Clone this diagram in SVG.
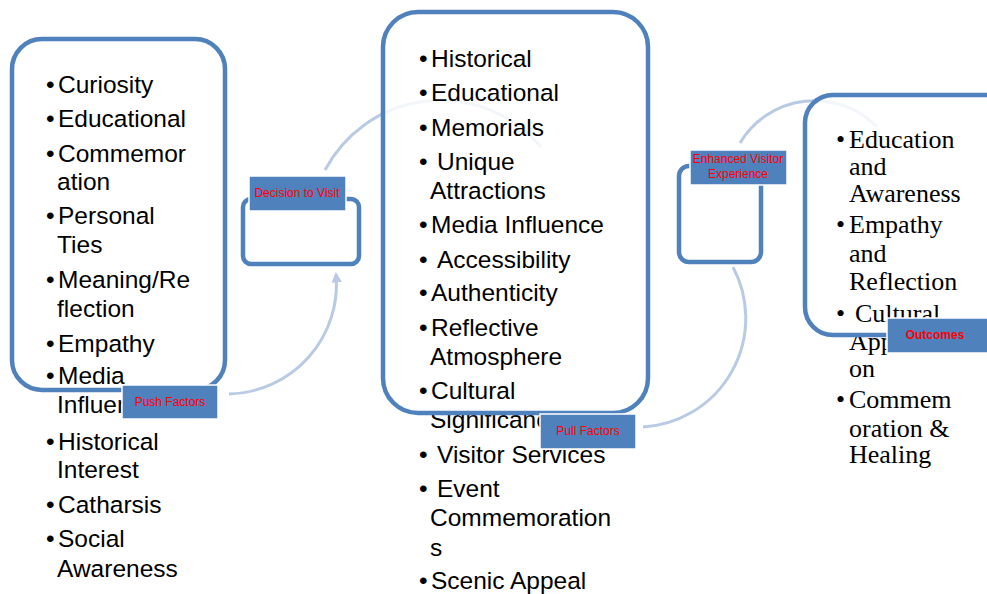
<svg xmlns="http://www.w3.org/2000/svg" width="987" height="594" viewBox="0 0 987 594">
<defs>
<style>
.box{fill:none;stroke:#4F81BD;stroke-width:4.5}
.bg{fill:#fff;fill-opacity:0.82;stroke:none}
.arc{fill:none;stroke:#B9CBE4;stroke-width:3}
.lbl{fill:#4F81BD;stroke:#fff;stroke-width:1.5}
.lt{font-family:"Liberation Sans",Arial,sans-serif;font-size:12px;fill:#FF0000;text-anchor:middle}
.b{font-weight:bold}
.s{font-family:"Liberation Sans",Arial,sans-serif;font-size:24.5px;fill:#000}
.r{font-family:"Liberation Serif","Times New Roman",serif;font-size:26px;fill:#000}
</style>
<marker id="ah" viewBox="0 0 10 10" refX="8" refY="5" markerWidth="3.5" markerHeight="3.5" orient="auto">
<path d="M0,0 L10,5 L0,10 z" fill="#B9CBE4"/>
</marker>
</defs>
<rect width="987" height="594" fill="#fff"/>

<g id="connectors">
<path class="arc" d="M229,394 A110,110 0 0 0 336,274" marker-end="url(#ah)"/>
<path class="arc" d="M325,170 A131,131 0 0 1 541,147"/>
<path class="arc" d="M643,427 A109,109 0 0 0 733,267"/>
<path class="arc" d="M740,143 A87,87 0 0 1 877,127"/>
</g>

<g id="push-factors">
<rect class="bg" x="12" y="39" width="213" height="351" rx="30"/>
<g class="s">
<text x="46" y="93">•</text><text x="58" y="93">Curiosity</text>
<text x="46" y="127">•</text><text x="58" y="127">Educational</text>
<text x="46" y="162">•</text><text x="58" y="162">Commemor</text>
<text x="57" y="190">ation</text>
<text x="46" y="224">•</text><text x="58" y="224">Personal</text>
<text x="57" y="253">Ties</text>
<text x="46" y="288">•</text><text x="58" y="288">Meaning/Re</text>
<text x="57" y="317">flection</text>
<text x="46" y="352">•</text><text x="58" y="352">Empathy</text>
<text x="46" y="384">•</text><text x="58" y="384">Media</text>
<text x="57" y="413">Influence</text>
<text x="46" y="450">•</text><text x="58" y="450">Historical</text>
<text x="57" y="478">Interest</text>
<text x="46" y="513">•</text><text x="58" y="513">Catharsis</text>
<text x="46" y="547">•</text><text x="58" y="547">Social</text>
<text x="57" y="577">Awareness</text>
</g>
<rect class="box" x="12" y="39" width="213" height="351" rx="30"/>
<rect class="lbl" x="122" y="385" width="96" height="34"/>
<text class="lt" x="170" y="406">Push Factors</text>
</g>

<g id="decision-to-visit">
<rect class="bg" x="243" y="199" width="116" height="65" rx="8"/>
<rect class="box" x="243" y="199" width="116" height="65" rx="8"/>
<rect class="lbl" x="249" y="176" width="97" height="35"/>
<text class="lt" x="297" y="197">Decision to Visit</text>
</g>

<g id="pull-factors">
<rect class="bg" x="383" y="12" width="265" height="401" rx="35"/>
<g class="s">
<text x="419" y="67">•</text><text x="431" y="67">Historical</text>
<text x="419" y="101">•</text><text x="431" y="101">Educational</text>
<text x="419" y="136">•</text><text x="431" y="136">Memorials</text>
<text x="419" y="170">•</text><text x="437" y="170">Unique</text>
<text x="430" y="199">Attractions</text>
<text x="419" y="233">•</text><text x="431" y="233">Media Influence</text>
<text x="419" y="268">•</text><text x="437" y="268">Accessibility</text>
<text x="419" y="301">•</text><text x="431" y="301">Authenticity</text>
<text x="419" y="336">•</text><text x="431" y="336">Reflective</text>
<text x="430" y="365">Atmosphere</text>
<text x="419" y="399">•</text><text x="431" y="399">Cultural</text>
<text x="430" y="428">Significance</text>
<text x="419" y="463">•</text><text x="437" y="463">Visitor Services</text>
<text x="419" y="497">•</text><text x="437" y="497">Event</text>
<text x="430" y="526">Commemoration</text>
<text x="430" y="556">s</text>
<text x="419" y="589">•</text><text x="431" y="589">Scenic Appeal</text>
</g>
<rect class="box" x="383" y="12" width="265" height="401" rx="35"/>
<rect class="lbl" x="540" y="414" width="96" height="35"/>
<text class="lt" x="588" y="435">Pull Factors</text>
</g>

<g id="enhanced-visitor-experience">
<rect class="bg" x="679" y="166" width="82" height="96" rx="10"/>
<rect class="box" x="679" y="166" width="82" height="96" rx="10"/>
<rect class="lbl" x="690" y="150" width="97" height="35"/>
<text class="lt" x="738" y="163">Enhanced Visitor</text>
<text class="lt" x="738" y="178">Experience</text>
</g>

<g id="outcomes">
<rect class="bg" x="805" y="95" width="210" height="240" rx="28"/>
<g class="r">
<text x="836" y="148">•</text><text x="849" y="148">Education</text>
<text x="849" y="175">and</text>
<text x="849" y="202">Awareness</text>
<text x="836" y="233">•</text><text x="849" y="233">Empathy</text>
<text x="849" y="262">and</text>
<text x="849" y="290">Reflection</text>
<text x="836" y="322">•</text><text x="855" y="322">Cultural</text>
<text x="849" y="350">Appreciati</text>
<text x="849" y="377">on</text>
<text x="836" y="408">•</text><text x="849" y="408">Commem</text>
<text x="849" y="437">oration &amp;</text>
<text x="849" y="463">Healing</text>
</g>
<rect class="box" x="805" y="95" width="210" height="240" rx="28"/>
<rect class="lbl" x="887" y="318" width="101" height="35"/>
<text class="lt b" x="935" y="339">Outcomes</text>
</g>
</svg>
